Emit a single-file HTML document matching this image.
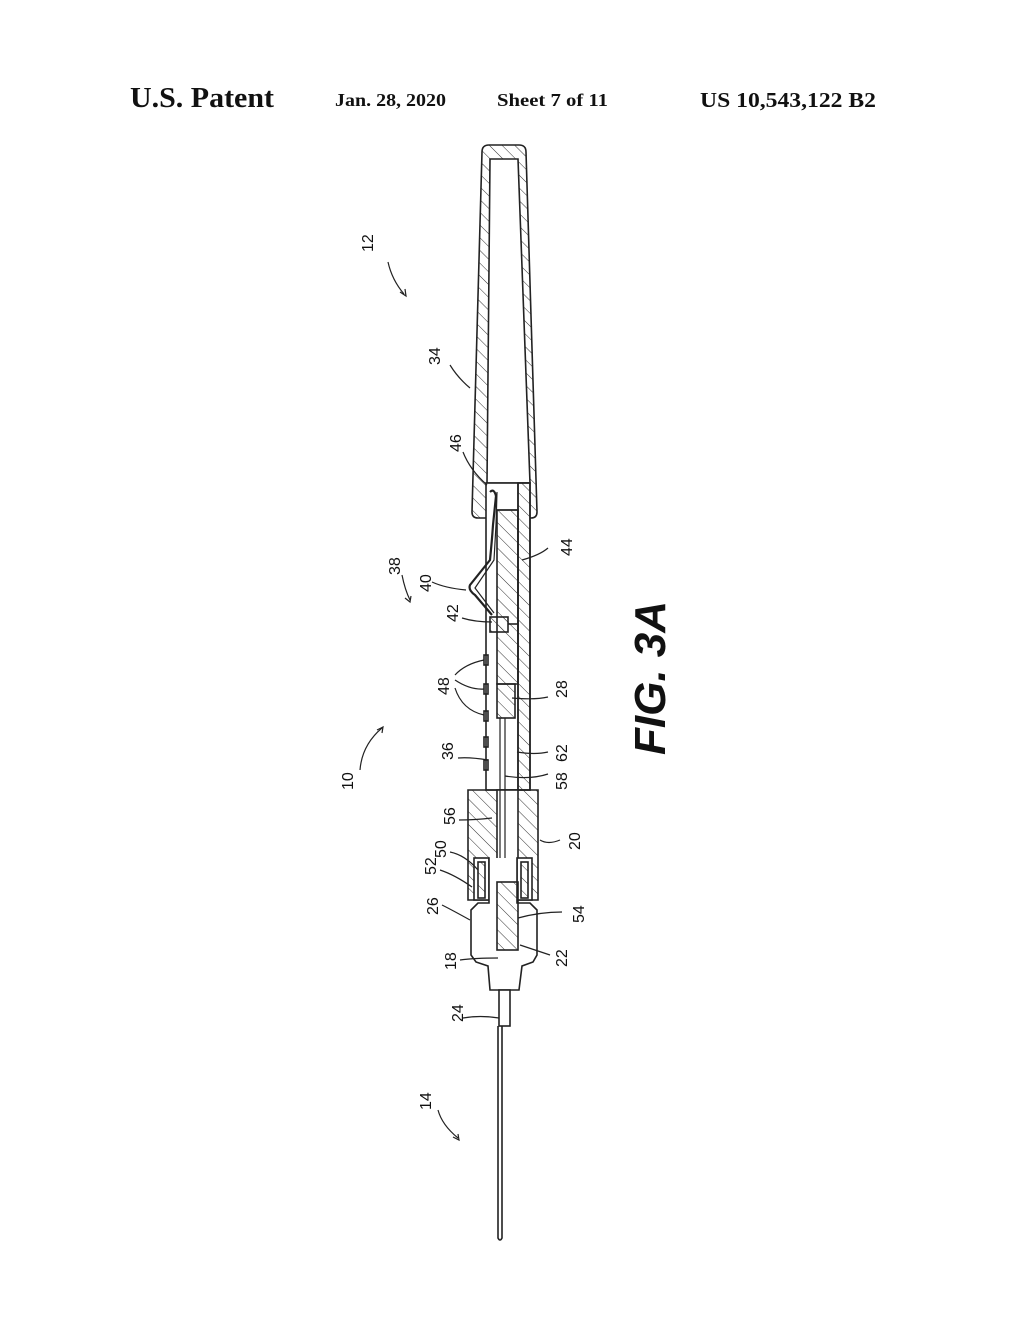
<!DOCTYPE html>
<html><head><meta charset="utf-8"><style>
html,body{margin:0;padding:0;background:#fff;}
svg{display:block}
</style></head><body>
<svg width="1020" height="1320" viewBox="0 0 1020 1320" xmlns="http://www.w3.org/2000/svg">
<defs>
<pattern id="h" width="9" height="9" patternUnits="userSpaceOnUse" patternTransform="rotate(-45)">
<line x1="0" y1="0" x2="0" y2="9" stroke="#333" stroke-width="1"/>
</pattern>
</defs>
<rect width="1020" height="1320" fill="#fff"/>
<g font-family="Liberation Serif, serif" font-weight="bold" fill="#111">
<text x="130" y="107" font-size="29" textLength="144" lengthAdjust="spacingAndGlyphs">U.S. Patent</text>
<text x="335" y="106" font-size="18" textLength="111" lengthAdjust="spacingAndGlyphs">Jan. 28, 2020</text>
<text x="497" y="106" font-size="18" textLength="111" lengthAdjust="spacingAndGlyphs">Sheet 7 of 11</text>
<text x="700" y="107" font-size="21" textLength="176" lengthAdjust="spacingAndGlyphs">US 10,543,122 B2</text>
</g>
<g stroke="#222" stroke-width="1.6" fill="none">
<path d="M482,152 Q482,145 489,145 L519,145 Q526,145 526,152 L537,512 Q537,518 531,518 L478,518 Q472,518 472,512 Z" fill="url(#h)"/>
<path d="M490,159 L518,159 L530,483 L487,483 Z" fill="#fff"/>
<rect x="486" y="483" width="44" height="307" fill="#fff"/>
<path d="M497,510 L518,510 L518,790 L530,790 L530,483 L518,483 L518,510" fill="url(#h)"/>
<path d="M497,510 L518,510 L518,684 L497,684 Z" fill="url(#h)"/>
<line x1="518" y1="483" x2="518" y2="790"/>
<rect x="490" y="617" width="18" height="15" fill="url(#h)"/>
<line x1="508" y1="624" x2="518" y2="624"/>
<rect x="497" y="684" width="18" height="34" fill="url(#h)"/>
<rect x="484" y="655" width="4" height="10"/>
<rect x="484" y="684" width="4" height="10"/>
<rect x="484" y="711" width="4" height="10"/>
<rect x="484" y="737" width="4" height="10"/>
<rect x="484" y="760" width="4" height="10"/>
<path d="M490,492 Q494,488 496,496 L493,525 Q492,540 490,560 L470,585 Q468,590 475,595 L492,615" stroke-width="2.2"/>
<path d="M497,492 L496,525 L494,560 L475,588 L494,613" stroke-width="1.2"/>
<line x1="500" y1="718" x2="500" y2="990" stroke-width="1.2"/>
<line x1="505" y1="718" x2="505" y2="990" stroke-width="1.2"/>
<path d="M468,790 L538,790 L538,900 L468,900 Z" fill="url(#h)"/>
<rect x="497" y="790" width="21" height="92" fill="#fff"/>
<line x1="500" y1="790" x2="500" y2="882" stroke-width="1.2"/>
<line x1="505" y1="790" x2="505" y2="882" stroke-width="1.2"/>
<rect x="474" y="858" width="15" height="42" fill="#fff"/>
<rect x="517" y="858" width="15" height="42" fill="#fff"/>
<rect x="478" y="862" width="7" height="36" fill="url(#h)"/>
<rect x="521" y="862" width="7" height="36" fill="url(#h)"/>
<path d="M489,858 L489,903 L478,903 L471,910 L471,955 L476,962 L488,966 L490,990 L519,990 L522,966 L533,962 L537,955 L537,910 L530,903 L517,903 L517,858" fill="#fff"/>
<rect x="497" y="882" width="21" height="68" fill="url(#h)"/>
<rect x="499" y="990" width="11" height="36" fill="#fff"/>
<path d="M498,1026 L498,1238 Q500,1242 502,1238 L502,1026"/>
</g>
<g stroke="#222" stroke-width="1.2" fill="none">
<path d="M388,262 Q392,280 404,294"/><path d="M400,292 l6,4 l-1,-7"/>
<path d="M450,365 Q458,378 470,388"/>
<path d="M463,452 Q470,470 487,485"/>
<path d="M402,575 Q405,590 410,600"/><path d="M405,598 l5,4 l1,-6"/>
<path d="M432,582 Q445,588 466,590"/>
<path d="M548,548 Q540,555 522,560"/>
<path d="M462,618 Q475,622 492,622"/>
<path d="M455,675 Q465,664 484,660"/><path d="M455,680 Q470,690 484,689"/><path d="M455,688 Q462,710 484,715"/>
<path d="M548,697 Q535,700 512,698"/>
<path d="M360,770 Q362,745 382,728"/><path d="M377,730 l6,-3 l-1,6"/>
<path d="M458,758 Q470,757 488,760"/>
<path d="M548,752 Q535,755 517,752"/>
<path d="M548,774 Q530,780 505,776"/>
<path d="M459,820 Q475,820 492,818"/>
<path d="M450,852 Q465,855 478,870"/>
<path d="M440,870 Q455,875 472,887"/>
<path d="M560,840 Q548,845 540,840"/>
<path d="M442,905 Q452,910 470,920"/>
<path d="M562,912 Q540,912 518,918"/>
<path d="M460,960 Q475,958 498,958"/>
<path d="M550,955 Q535,950 520,945"/>
<path d="M463,1018 Q480,1015 499,1018"/>
<path d="M438,1110 Q442,1125 458,1138"/><path d="M453,1137 l6,3 l-1,-6"/>
</g>
<g font-family="Liberation Sans, sans-serif" font-size="16" fill="#111">
<text transform="translate(373,252) rotate(-90)">12</text>
<text transform="translate(440,365) rotate(-90)">34</text>
<text transform="translate(461,452) rotate(-90)">46</text>
<text transform="translate(400,575) rotate(-90)">38</text>
<text transform="translate(431,592) rotate(-90)">40</text>
<text transform="translate(572,556) rotate(-90)">44</text>
<text transform="translate(458,622) rotate(-90)">42</text>
<text transform="translate(449,695) rotate(-90)">48</text>
<text transform="translate(567,698) rotate(-90)">28</text>
<text transform="translate(353,790) rotate(-90)">10</text>
<text transform="translate(453,760) rotate(-90)">36</text>
<text transform="translate(567,762) rotate(-90)">62</text>
<text transform="translate(567,790) rotate(-90)">58</text>
<text transform="translate(455,825) rotate(-90)">56</text>
<text transform="translate(446,858) rotate(-90)">50</text>
<text transform="translate(436,875) rotate(-90)">52</text>
<text transform="translate(580,850) rotate(-90)">20</text>
<text transform="translate(438,915) rotate(-90)">26</text>
<text transform="translate(584,923) rotate(-90)">54</text>
<text transform="translate(456,970) rotate(-90)">18</text>
<text transform="translate(567,967) rotate(-90)">22</text>
<text transform="translate(463,1022) rotate(-90)">24</text>
<text transform="translate(431,1110) rotate(-90)">14</text>
</g>
<text transform="translate(665,755) rotate(-90)" font-family="Liberation Sans, sans-serif" font-size="44" font-style="italic" font-weight="bold" fill="#111">FIG. 3A</text>
</svg>
</body></html>
